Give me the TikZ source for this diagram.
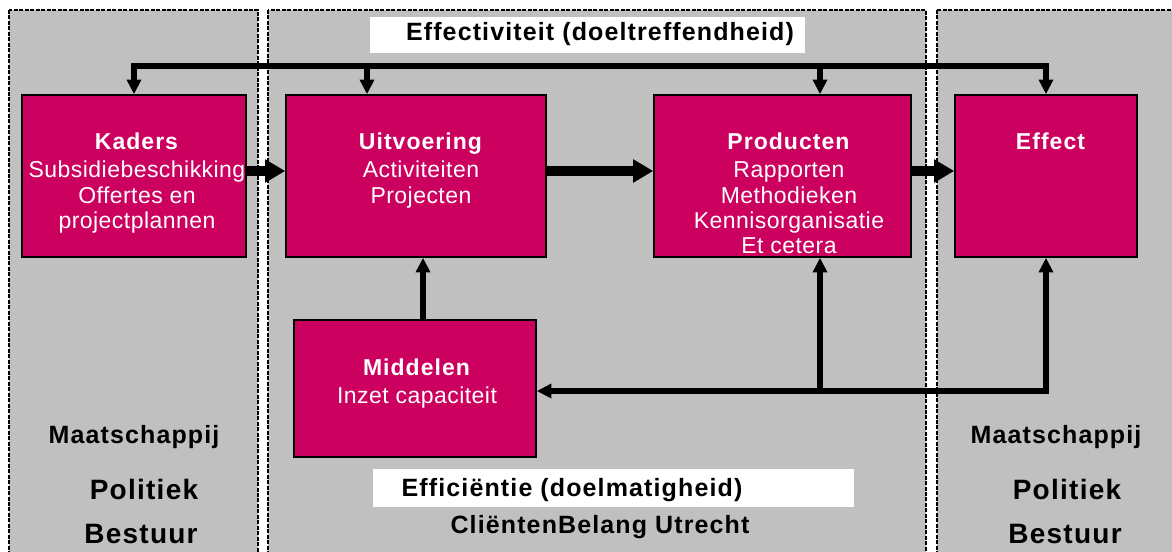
\documentclass[tikz,border=0pt]{standalone}
\usepackage{fontspec}
\setmainfont{Liberation Sans}[LetterSpace=2,BoldFeatures={LetterSpace=4.5}]
\usetikzlibrary{arrows.meta,calc}
\definecolor{paneelgrijs}{RGB}{192,192,192}
\definecolor{blokrood}{RGB}{204,0,94}
\def\bt{\fontsize{17.25}{19}\selectfont}

\begin{document}
\begin{tikzpicture}[x=0.75pt,y=-0.75pt,
  paneel/.style={draw,fill=paneelgrijs,line width=2.2pt,dash pattern=on 3pt off 1.1pt},
  blok/.style={draw,fill=blokrood,line width=1.2pt,inner sep=0pt},
  bloktekst/.style={text=white,align=center,anchor=north,inner sep=0pt,font=\bt},
  stroom/.style={-{Triangle[length=15pt,width=16.5pt]},line width=7.5pt},
  lijn/.style={line width=4.8pt,line cap=rect},
  terug/.style={-{Triangle[length=11pt,width=10.5pt]},line width=4.8pt},
  zijtekst/.style={anchor=base,font=\bfseries\fontsize{21}{23}\selectfont},
  labeltekst/.style={anchor=base,font=\bfseries\fontsize{18.75}{20}\selectfont}]
\useasboundingbox (0,0) rectangle (1172,551);
\clip (0,0) rectangle (1172,551);
%
% panelen
\draw[paneel] (9,10) rectangle (258,580);
\draw[paneel] (268,10) rectangle (926,580);
\draw[paneel] (937,10) rectangle (1200,580);
\fill[white] (370,17) rectangle (805,53);
\fill[white] (373,469) rectangle (854,507);
%
% blokken
\node [blok,minimum width=168pt,minimum height=121.5pt] at (134,176) (kaders) {};
\node [blok,minimum width=195pt,minimum height=121.5pt] at (416,176) (uitvoering) {};
\node [blok,minimum width=192.75pt,minimum height=121.5pt] at (782.5,176) (producten) {};
\node [blok,minimum width=136.5pt,minimum height=121.5pt] at (1046,176) (effect) {};
\node [blok,minimum width=181.5pt,minimum height=102.75pt] at (415,388.5) (middelen) {};
%
\node [bloktekst] at (137,133) (kaders tekst) {\textbf{Kaders}\\[2pt]Subsidiebeschikking\\Offertes en\\projectplannen};
\node [bloktekst] at (421,133) (uitvoering tekst) {\textbf{Uitvoering}\\[2pt]Activiteiten\\Projecten};
\node [bloktekst] at (789,133) (producten tekst) {\textbf{Producten}\\[2pt]Rapporten\\Methodieken\\Kennisorganisatie\\Et cetera};
\node [bloktekst] at (1051,133) (effect tekst) {\textbf{Effect}};
\node [bloktekst] at (417,359) (middelen tekst) {\textbf{Middelen}\\[2pt]Inzet capaciteit};
%
% hoofdstroom
\draw[stroom] ([yshift=3.75pt]kaders.east) -- ([yshift=3.75pt]uitvoering.west);
\draw[stroom] ([yshift=3.75pt]uitvoering.east) -- ([yshift=3.75pt]producten.west);
\draw[stroom] ([yshift=3.75pt]producten.east) -- ([yshift=3.75pt]effect.west);
\draw[terug] ($(middelen.north)+(8,0)$) -- ($(uitvoering.south)+(7,0)$);
%
% effectiviteit
\coordinate (bus k) at (134,66);
\coordinate (bus u) at (367,66);
\coordinate (bus p) at (820,66);
\coordinate (bus e) at (1046,66);
\draw[lijn] (bus k) -- (bus e);
\draw[terug] (bus k) -- (kaders);
\draw[terug] (bus u) -- (bus u |- uitvoering.north);
\draw[terug] (bus p) -- (bus p |- producten.north);
\draw[terug] (bus e) -- (effect);
%
% efficientie
\coordinate (terug p) at (820,391);
\coordinate (terug e) at (1046,391);
\draw[lijn] (terug p) -- (terug e);
\draw[terug] (terug e) -- (terug e -| middelen.east);
\draw[terug] (terug e) -- (effect);
\draw[terug] (terug p) -- (terug p |- producten.south);
%
% teksten
\node [labeltekst] at (600,40) (effectiviteit) {Effectiviteit (doeltreffendheid)};
\node [labeltekst] at (572,496) (efficientie) {Efficiëntie (doelmatigheid)};
\node [labeltekst] at (600,533) (belang) {CliëntenBelang Utrecht};
\node [labeltekst] at (134,443) (maatschappij l) {Maatschappij};
\node [zijtekst] at (144,499) (politiek l) {Politiek};
\node [zijtekst] at (141,543) (bestuur l) {Bestuur};
\node [labeltekst] at (1056,443) (maatschappij r) {Maatschappij};
\node [zijtekst] at (1067,499) (politiek r) {Politiek};
\node [zijtekst] at (1065,543) (bestuur r) {Bestuur};
\end{tikzpicture}
\end{document}
